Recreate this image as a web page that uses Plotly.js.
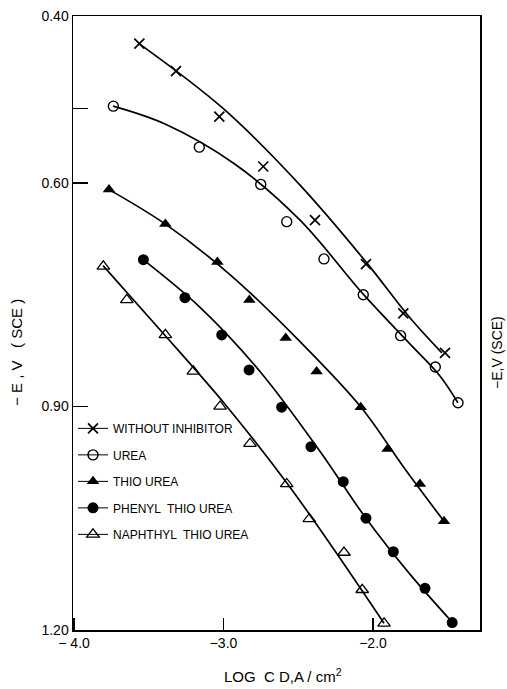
<!DOCTYPE html>
<html>
<head>
<meta charset="utf-8">
<script src="https://cdn.plot.ly/plotly-3.0.1.min.js"></script>
<style>html,body{margin:0;padding:0;background:#fff;}#chart{width:507px;height:689px;}</style>
</head>
<body>
<div id="chart"></div>
<script>
// ---- measured points (log current density, -E V vs SCE) ----
const seriesNames = ["WITHOUT INHIBITOR", "UREA", "THIO UREA", "PHENYL  THIO UREA", "NAPHTHYL  THIO UREA"];

const withoutX = [-3.563, -3.318, -3.028, -2.734, -2.388, -2.047, -1.797, -1.518];
const withoutY = [0.413, 0.450, 0.511, 0.578, 0.650, 0.709, 0.775, 0.828];

const ureaX = [-3.737, -3.162, -2.751, -2.577, -2.328, -2.065, -1.815, -1.583, -1.431];
const ureaY = [0.497, 0.552, 0.602, 0.652, 0.702, 0.750, 0.805, 0.847, 0.895];

const thioX = [-3.766, -3.389, -3.041, -2.827, -2.584, -2.377, -2.082, -1.902, -1.686, -1.525];
const thioY = [0.609, 0.655, 0.706, 0.757, 0.808, 0.853, 0.901, 0.957, 1.004, 1.054];

const phenylX = [-3.536, -3.258, -3.012, -2.829, -2.611, -2.415, -2.199, -2.047, -1.864, -1.652, -1.470];
const phenylY = [0.703, 0.754, 0.804, 0.851, 0.901, 0.954, 1.001, 1.050, 1.095, 1.144, 1.190];

const naphX = [-3.804, -3.647, -3.389, -3.202, -3.023, -2.823, -2.577, -2.426, -2.194, -2.072, -1.926];
const naphY = [0.712, 0.757, 0.804, 0.853, 0.900, 0.950, 1.004, 1.051, 1.096, 1.146, 1.191];

// ---- hand-drawn smooth curves (control points) ----
const withoutFitX = [-3.565, -3.003, -2.488, -2.047, -1.753, -1.539];
const withoutFitY = [0.413, 0.500, 0.603, 0.706, 0.781, 0.828];

const ureaFitX = [-3.739, -3.391, -2.923, -2.488, -2.067, -1.753, -1.552, -1.432];
const ureaFitY = [0.497, 0.521, 0.575, 0.650, 0.749, 0.816, 0.859, 0.895];

const thioFitX = [-3.766, -3.391, -2.957, -2.488, -2.080, -1.786, -1.525];
const thioFitY = [0.609, 0.655, 0.723, 0.813, 0.901, 0.984, 1.054];

const phenylFitX = [-3.538, -3.157, -2.756, -2.355, -2.047, -1.753, -1.472];
const phenylFitY = [0.703, 0.767, 0.853, 0.960, 1.050, 1.125, 1.189];

const naphFitX = [-3.806, -3.425, -2.990, -2.575, -2.254, -1.926];
const naphFitY = [0.711, 0.797, 0.897, 1.003, 1.094, 1.191];

// ---- axis ticks ----
const yTickVals = [0.376, 0.60, 0.90, 1.20];
const yTickText = ["0.40", "0.60", "0.90", "1.20"];
const yMinorTickVals = [0.50];
const xTickVals = [-4.0, -3.0, -2.0];
const xTickText = ["\u2212 4.0", "\u22123.0", "\u22122.0"];

const FONT = "Liberation Sans, Arial, sans-serif";
const symbols = [
  {symbol: "x-thin-open", size: 10, color: "#000", line: {width: 1.7, color: "#000"}},
  {symbol: "circle-open", size: 10, color: "#000", line: {width: 1.4, color: "#000"}},
  {symbol: "triangle-up", size: 11, color: "#000", line: {width: 0, color: "#000"}},
  {symbol: "circle", size: 11, color: "#000", line: {width: 0, color: "#000"}},
  {symbol: "triangle-up-open", size: 11, color: "#000", line: {width: 1.3, color: "#000"}}
];
const pts = [[withoutX, withoutY], [ureaX, ureaY], [thioX, thioY], [phenylX, phenylY], [naphX, naphY]];
const fits = [[withoutFitX, withoutFitY], [ureaFitX, ureaFitY], [thioFitX, thioFitY], [phenylFitX, phenylFitY], [naphFitX, naphFitY]];

const traces = [];
fits.forEach((f, i) => {
  traces.push({
    x: f[0], y: f[1], type: "scatter", mode: "lines",
    line: {color: "#000", width: 1.7, shape: "spline", smoothing: 1.0},
    showlegend: false, hoverinfo: "skip", legendgroup: "g" + i
  });
});
pts.forEach((p, i) => {
  // interleave gaps so the points are not joined, while the legend still shows a line with a marker
  const gx = p[0].flatMap(v => [v, null]);
  const gy = p[1].flatMap(v => [v, null]);
  traces.push({
    x: gx, y: gy, type: "scatter", mode: "lines+markers", connectgaps: false,
    name: seriesNames[i], legendgroup: "g" + i,
    line: {color: "#000", width: 1},
    marker: symbols[i]
  });
});

const layout = {
  width: 507, height: 689,
  margin: {l: 73, r: 27, t: 16, b: 59},
  paper_bgcolor: "#fff", plot_bgcolor: "#fff",
  font: {family: FONT, color: "#000", size: 14},
  showlegend: true,
  legend: {
    x: 0.0, y: 0.352, xanchor: "left", yanchor: "top",
    bgcolor: "rgba(0,0,0,0)", borderwidth: 0,
    font: {family: FONT, size: 12, color: "#000"},
    traceorder: "grouped", tracegroupgap: 7.5, itemwidth: 30
  },
  xaxis: {
    range: [-4.007, -1.284], showgrid: false, zeroline: false,
    showline: true, linecolor: "#000", linewidth: 1.5, mirror: true,
    ticks: "inside", ticklen: 12, tickwidth: 1.2, tickcolor: "#000",
    tickvals: xTickVals, ticktext: xTickText,
    tickfont: {family: FONT, size: 14}
  },
  yaxis: {
    range: [1.20, 0.376], showgrid: false, zeroline: false,
    showline: true, linecolor: "#000", linewidth: 1.5, mirror: true,
    ticks: "inside", ticklen: 15, tickwidth: 1.2, tickcolor: "#000",
    tickvals: yTickVals, ticktext: yTickText,
    tickfont: {family: FONT, size: 14},
    minor: {tickvals: yMinorTickVals, ticks: "inside", ticklen: 15, tickwidth: 1.2, tickcolor: "#000", showgrid: false}
  },
  annotations: [
    {
      text: "\u2212 E , V   ( SCE )", xref: "paper", yref: "paper",
      x: -0.1376, y: 0.453, xanchor: "center", yanchor: "middle",
      textangle: -90, showarrow: false, font: {family: FONT, size: 15, color: "#000"}
    },
    {
      text: "\u2212E,V (SCE)", xref: "paper", yref: "paper",
      x: 1.043, y: 0.452, xanchor: "center", yanchor: "middle",
      textangle: -90, showarrow: false, font: {family: FONT, size: 14, color: "#000"}
    },
    {
      text: "LOG  C D,A / cm<sup>2</sup>", xref: "paper", yref: "paper",
      x: 0.516, y: -0.074, xanchor: "center", yanchor: "middle",
      showarrow: false, font: {family: FONT, size: 15, color: "#000"}
    }
  ]
};

Plotly.newPlot("chart", traces, layout, {displayModeBar: false, staticPlot: true});
</script>
</body>
</html>
